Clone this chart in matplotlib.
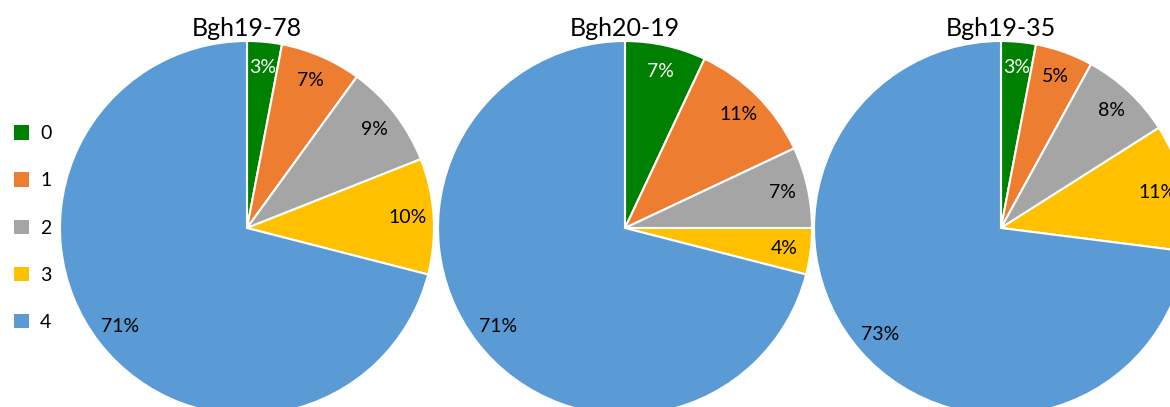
import matplotlib
matplotlib.use("Agg")
import matplotlib.pyplot as plt
from matplotlib.patches import Patch

plt.rcParams['font.family'] = ['Lato', 'DejaVu Sans']

categories = ['0', '1', '2', '3', '4']
titles = ['Bgh19-78', 'Bgh20-19', 'Bgh19-35']
values_78 = [3, 7, 9, 10, 71]
values_2019 = [7, 11, 7, 4, 71]
values_35 = [3, 5, 8, 11, 73]
series = [values_78, values_2019, values_35]
colors = ['#008000', '#ED7D31', '#A5A5A5', '#FFC000', '#5B9BD5']

W, H = 1170, 407
fig = plt.figure(figsize=(W / 100, H / 100), dpi=100)
ax = fig.add_axes([0, 0, 1, 1])

centers_x = [247, 625, 1001]
cy = H - 228
R = 187

for cx, vals, title in zip(centers_x, series, titles):
    wedges, texts, autotexts = ax.pie(
        vals, colors=colors, startangle=90, counterclock=False,
        center=(cx, cy), radius=R, autopct=lambda p: f'{p:.0f}%',
        pctdistance=0.86, wedgeprops=dict(edgecolor='white', linewidth=1.5),
        textprops=dict(fontsize=14, color='black'), frame=True)
    autotexts[0].set_color('white')
    ax.text(cx, H - 28, title, ha='center', va='center', fontsize=18)

ax.set_xlim(0, W)
ax.set_ylim(0, H)
ax.set_aspect('equal')
ax.axis('off')

handles = [Patch(facecolor=c, edgecolor='none') for c in colors]
fig.legend(handles, categories, loc='center left', bbox_to_anchor=(-0.003, 1 - 228 / H),
           frameon=False, fontsize=14, handlelength=0.75, handleheight=0.75,
           handletextpad=0.6, labelspacing=1.55)

fig.savefig('out.png', dpi=100)
